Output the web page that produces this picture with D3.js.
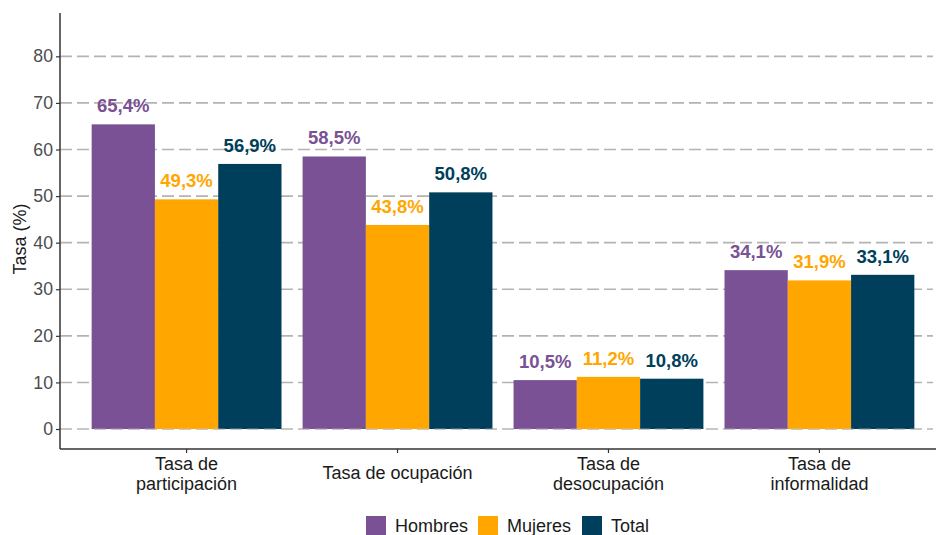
<!DOCTYPE html>
<html><head><meta charset="utf-8">
<script src="https://cdn.jsdelivr.net/npm/d3@7"></script>
<style>body{margin:0;background:#fff;} text{font-family:"Liberation Sans",Arial,sans-serif;}</style>
</head><body><svg id="c" width="936" height="535"></svg>
<script>
const categories = [["Tasa de","participación"],["Tasa de ocupación"],["Tasa de","desocupación"],["Tasa de","informalidad"]];
const seriesNames = ["Hombres","Mujeres","Total"];
const hombres = [65.4, 58.5, 10.5, 34.1];
const mujeres = [49.3, 43.8, 11.2, 31.9];
const total = [56.9, 50.8, 10.8, 33.1];
const yTicks = [0,10,20,30,40,50,60,70,80];
const colors = ["#7a5195","#ffa600","#003f5c"];

(function(){
const svg = d3.select("#c");
const pL = 60, pR = 946, pT = 13, pB = 449;
const y = d3.scaleLinear().domain([-4.29, 89.3]).range([pB, pT]);
const x = d3.scaleBand().domain(d3.range(categories.length)).range([pL, pR]).paddingInner(0.1).paddingOuter(0.15);
const gw = x.bandwidth();
const xs = d3.scaleBand().domain(d3.range(3)).range([0, gw]);
const center = i => x(i) + gw/2;

svg.append("g").selectAll("line").data(yTicks).join("line")
  .attr("x1", pL).attr("x2", 933).attr("y1", d=>y(d)).attr("y2", d=>y(d))
  .attr("stroke","#b3b3b3").attr("stroke-width",1.6).attr("stroke-dasharray","12,5");

const series = [hombres, mujeres, total];
series.forEach((vals, s) => {
  const g = svg.append("g");
  g.selectAll("rect").data(vals).join("rect")
    .attr("x", (d,i)=>x(i)+xs(s))
    .attr("width", xs.bandwidth())
    .attr("y", d=>y(d)).attr("height", d=>y(0)-y(d))
    .attr("fill", colors[s]);
  g.selectAll("text").data(vals).join("text")
    .attr("x", (d,i)=>x(i)+xs(s)+xs.bandwidth()/2)
    .attr("y", d=>y(d)-12)
    .attr("text-anchor","middle").attr("font-weight","bold").attr("font-size",18.5)
    .attr("fill", colors[s])
    .text(d=>d.toFixed(1).replace(".",",")+"%");
});

svg.append("line").attr("x1",pL).attr("x2",933).attr("y1",y(0)).attr("y2",y(0))
  .attr("stroke","#d0d0d0").attr("stroke-width",1).attr("stroke-dasharray","12,5").attr("opacity",0.6);

const ya = svg.append("g").attr("transform",`translate(${pL},0)`)
  .call(d3.axisLeft(y).tickValues(yTicks).tickSize(4).tickPadding(3));
ya.select(".domain").attr("d",`M0,${pT}V${pB}`).attr("stroke","#333").attr("stroke-width",1.5);
ya.selectAll(".tick line").attr("stroke","#333").attr("stroke-width",1.2);
ya.selectAll(".tick text").attr("font-size",17.7).attr("fill","#4d4d4d").attr("font-family","Liberation Sans, Arial, sans-serif");

svg.append("line").attr("x1",pL).attr("x2",936).attr("y1",pB).attr("y2",pB).attr("stroke","#333").attr("stroke-width",1.5);
const xt = svg.append("g");
categories.forEach((lines,i)=>{
  xt.append("line").attr("x1",center(i)).attr("x2",center(i)).attr("y1",pB).attr("y2",pB+4).attr("stroke","#333").attr("stroke-width",1.2);
  const t = xt.append("text").attr("text-anchor","middle").attr("font-size",18).attr("fill","#1a1a1a");
  const y0 = lines.length===1 ? 479 : 470;
  lines.forEach((l,k)=>t.append("tspan").attr("x",center(i)).attr("y",y0+k*20).text(l));
});

svg.append("text").attr("transform","translate(26,239) rotate(-90)").attr("text-anchor","middle")
  .attr("font-size",18).attr("fill","#1a1a1a").text("Tasa (%)");

const legX = [366, 478, 582];
seriesNames.forEach((n,s)=>{
  svg.append("rect").attr("x",legX[s]).attr("y",516).attr("width",20).attr("height",19).attr("fill",colors[s]);
  svg.append("text").attr("x",legX[s]+29).attr("y",532).attr("font-size",18).attr("fill","#1a1a1a").text(n);
});
})();
</script></body></html>
